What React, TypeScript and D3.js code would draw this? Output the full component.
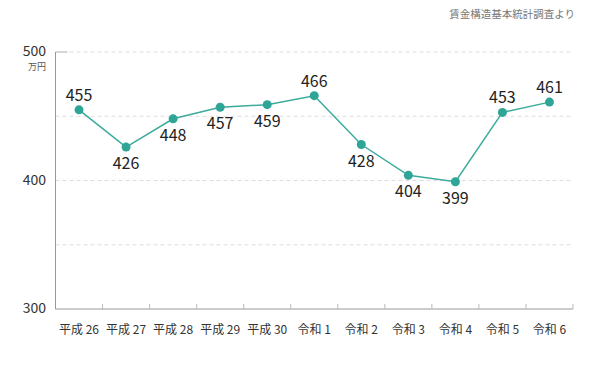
import React from 'react'
import * as d3 from 'd3'

const categories = ['平成 26', '平成 27', '平成 28', '平成 29', '平成 30', '令和 1', '令和 2', '令和 3', '令和 4', '令和 5', '令和 6']
const values = [455, 426, 448, 457, 459, 466, 428, 404, 399, 453, 461]
const labelAbove = [true, false, false, false, false, true, false, false, false, true, true]
const yTicks = [300, 400, 500]
const gridTicks = [350, 400, 450, 500]

const width = 600
const height = 374
const left = 55.5
const right = 573
const top = 52
const bottom = 309
const font = '"Noto Sans CJK JP", "Noto Sans", sans-serif'

const App = () => {
  const x = d3.scaleBand().domain(categories).range([left, right])
  const y = d3.scaleLinear().domain([300, 500]).range([bottom, top])
  const line = d3
    .line<number>()
    .x((d, i) => (x(categories[i]) as number) + x.bandwidth() / 2)
    .y(d => y(d))

  return (
    <svg width={width} height={height} style={{ position: 'absolute', left: 0, top: 0 }}>
      <text x={575} y={18} textAnchor="end" fontSize={10.5} fill="#777" fontFamily={font}>
        賃金構造基本統計調査より
      </text>
      {gridTicks.map(t => (
        <line key={t} x1={left} x2={right} y1={y(t)} y2={y(t)} stroke="#ddd" strokeDasharray="4,3" />
      ))}
      <line x1={left} x2={left + 12} y1={y(500)} y2={y(500)} stroke="#ccc" strokeWidth={1.5} />
      <line x1={left} x2={left} y1={top} y2={bottom} stroke="#999" />
      <line x1={left} x2={right} y1={bottom} y2={bottom} stroke="#999" />
      {categories.map(c => (
        <line key={c} x1={(x(c) as number) + x.bandwidth()} x2={(x(c) as number) + x.bandwidth()} y1={bottom} y2={bottom - 5} stroke="#bbb" />
      ))}
      {yTicks.map(t => (
        <text key={t} x={46} y={y(t) + 4} textAnchor="end" fontSize={14} fill="#333" fontFamily={font}>
          {t}
        </text>
      ))}
      <text x={46} y={y(500) + 18} textAnchor="end" fontSize={9} fill="#555" fontFamily={font}>
        万円
      </text>
      {categories.map(c => (
        <text key={c} x={(x(c) as number) + x.bandwidth() / 2} y={334} textAnchor="middle" fontSize={12} fill="#333" fontFamily={font}>
          {c}
        </text>
      ))}
      <path d={line(values) as string} fill="none" stroke="#3aab9c" strokeWidth={1.5} />
      {values.map((v, i) => {
        const cx = (x(categories[i]) as number) + x.bandwidth() / 2
        return (
          <g key={i}>
            <circle cx={cx} cy={y(v)} r={4.5} fill="#2ea596" />
            <text
              x={cx}
              y={labelAbove[i] ? y(v) - 9 : y(v) + 22}
              textAnchor="middle"
              fontSize={16}
              fill="#222"
              fontFamily={font}
            >
              {v}
            </text>
          </g>
        )
      })}
    </svg>
  )
}

export default App
